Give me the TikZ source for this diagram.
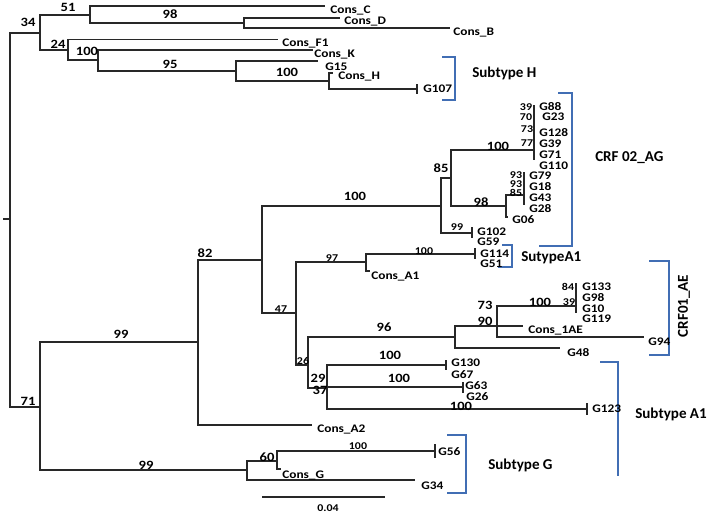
\documentclass[tikz,border=0pt]{standalone}
\usepackage{fontspec}
\setmainfont{Carlito}
\newfontfamily\treefont{Carlito}[FakeStretch=1.15]
\definecolor{brk}{RGB}{65,110,180}
\definecolor{ln}{RGB}{40,40,40}
\begin{document}
\begin{tikzpicture}[x=0.75pt,y=-0.75pt,
  br/.style={draw=ln,line width=0.85pt},
  tk/.style={draw=ln,line width=0.85pt},
  bkt/.style={draw=brk,line width=1.5pt},
  taxon/.style={anchor=west,inner sep=0pt,font=\treefont\bfseries\fontsize{8.7}{9}\selectfont},
  bs/.style={inner sep=0pt,font=\treefont\bfseries\fontsize{9.5}{10}\selectfont},
  bss/.style={inner sep=0pt,font=\treefont\bfseries\fontsize{7.8}{8}\selectfont},
  clade/.style={anchor=west,inner sep=0pt,font=\bfseries\fontsize{11.3}{13}\selectfont}]
\useasboundingbox (0,0) rectangle (709,515);
% ---------- internal nodes ----------
\coordinate (rs) at (3,219);
\coordinate (root) at (10,219);
\coordinate (nA) at (40,33);
\coordinate (nB) at (90,15);
\coordinate (nC) at (68,50);
\coordinate (nD) at (244,23);
\coordinate (nE) at (98,60);
\coordinate (nF) at (236,71);
\coordinate (nH) at (329,81);
\coordinate (nR2) at (40,407);
\coordinate (nS) at (198,342);
\coordinate (nT) at (262,260);
\coordinate (nU) at (441,206);
\coordinate (nW) at (451,178);
\coordinate (nY) at (534,150);
\coordinate (nZ) at (506,206);
\coordinate (nZ2) at (514,195);
\coordinate (nX) at (472,233);
\coordinate (nV) at (296,313);
\coordinate (nAA) at (366,262);
\coordinate (nAB) at (308,365);
\coordinate (nAC) at (455,337);
\coordinate (nAE) at (497,326);
\coordinate (nAF) at (576,306);
\coordinate (nAD) at (327,388);
\coordinate (nSG) at (247,470);
\coordinate (nSH) at (277,461);
% ---------- tips ----------
\coordinate (tC) at (325,6);
\coordinate (tD) at (340,18);
\coordinate (tB) at (450,28);
\coordinate (tF1) at (278,39.5);
\coordinate (tK) at (313,50);
\coordinate (t15) at (318,61);
\coordinate (tH) at (333,73);
\coordinate (t107) at (417,89);
\coordinate (tG06) at (508,217);
\coordinate (t114) at (475,254);
\coordinate (tA1) at (370,271);
\coordinate (t1AE) at (523,326);
\coordinate (t94) at (644,337);
\coordinate (t48) at (560,348);
\coordinate (t130) at (446,365);
\coordinate (t63) at (463,387);
\coordinate (t123) at (587,409);
\coordinate (tA2) at (312,425);
\coordinate (t56) at (435,451);
\coordinate (tG) at (281,469);
\coordinate (t34) at (415,480);
% ---------- branches ----------
\draw[br] (rs) -- (root);
\draw[br] (root) |- (nA);
\draw[br] (root) |- (nR2);
\draw[br] (nA) |- (nB);
\draw[br] (nA) |- (nC);
\draw[br] (nB) |- (tC);
\draw[br] (nB) |- (nD);
\draw[br] (nD) |- (tD);
\draw[br] (nD) |- (tB);
\draw[br] (nC) |- (tF1);
\draw[br] (nC) |- (nE);
\draw[br] (nE) |- (tK);
\draw[br] (nE) |- (nF);
\draw[br] (nF) |- (t15);
\draw[br] (nF) |- (nH);
\draw[br] (nH) |- (tH);
\draw[br] (nH) |- (t107);
\draw[br] (nR2) |- (nS);
\draw[br] (nR2) |- (nSG);
\draw[br] (nS) |- (nT);
\draw[br] (nS) |- (tA2);
\draw[br] (nT) |- (nU);
\draw[br] (nT) |- (nV);
\draw[br] (nU) |- (nW);
\draw[br] (nU) |- (nX);
\draw[br] (nW) |- (nY);
\draw[br] (nW) |- (nZ);
\draw[br] (nY) ++(0,-45) -- ++(0,55);
\draw[br] (nZ) |- (nZ2);
\draw[br] (nZ) |- (tG06);
\draw[br] (nZ2) -- ++(10,0) coordinate (nZ3);
\draw[br] (nZ3) ++(0,-23) -- ++(0,33);
\draw[tk] (nX) ++(0,-6) -- ++(0,11);
\draw[br] (nV) |- (nAA);
\draw[br] (nV) |- (nAB);
\draw[br] (nAA) |- (t114);
\draw[br] (nAA) |- (tA1);
\draw[tk] (t114) ++(0,-6) -- ++(0,11);
\draw[br] (nAB) |- (nAC);
\draw[br] (nAB) |- (nAD);
\draw[br] (nAC) |- (nAE);
\draw[br] (nAC) |- (t48);
\draw[br] (nAE) |- (nAF);
\draw[br] (nAE) -- (t1AE);
\draw[br] (nAE) |- (t94);
\draw[br] (nAF) ++(0,-23) -- ++(0,30);
\draw[br] (nAD) |- (t130);
\draw[br] (nAD) |- (t63);
\draw[br] (nAD) |- (t123);
\draw[tk] (t130) ++(0,-5) -- ++(0,10);
\draw[tk] (t63) ++(0,-5) -- ++(0,11);
\draw[tk] (t123) ++(0,-6) -- ++(0,12);
\draw[tk] (t107) ++(0,-5) -- ++(0,10);
\draw[br] (nSG) |- (nSH);
\draw[br] (nSG) |- (t34);
\draw[br] (nSH) |- (t56);
\draw[br] (nSH) |- (tG);
\draw[tk] (t56) ++(0,-7) -- ++(0,14);
% ---------- scale bar ----------
\coordinate (sb1) at (262,497);
\coordinate (sb2) at (385,497);
\draw[br] (sb1) -- (sb2);
\node[bss] (lsb) at (328,508) {0.04};
% ---------- brackets ----------
\draw[bkt] (442,57) -- (455,57) -- (455,100) -- (442,100);
\draw[bkt] (558,93) -- (572,93) -- (572,246) -- (539,246);
\draw[bkt] (502,245) -- (512,245) -- (512,267) -- (498,267);
\draw[bkt] (649,261) -- (669,261) -- (669,355) -- (649,355);
\draw[bkt] (600,362) -- (618,362) -- (618,476);
\draw[bkt] (447,435) -- (466,435) -- (466,493) -- (447,493);
% ---------- clade labels ----------
\node[clade] (cH) at (472,73) {Subtype H};
\node[clade] (c02) at (595,158) {CRF 02\_AG};
\node[clade] (cA1a) at (521,258) {SutypeA1};
\node[clade,anchor=center,rotate=90] (c01) at (684,306) {CRF01\_AE};
\node[clade] (cA1b) at (635,414) {Subtype A1};
\node[clade] (cG) at (488,465) {Subtype G};
% ---------- bootstrap labels ----------
\node[bs] (b34) at (28,22) {34};
\node[bs] (b51) at (68,7) {51};
\node[bs] (b98a) at (170,14) {98};
\node[bs] (b24) at (58,44) {24};
\node[bs] (b100a) at (87,51) {100};
\node[bs] (b95) at (170,64) {95};
\node[bs] (b100b) at (287,72) {100};
\node[bs] (b85) at (441,168) {85};
\node[bs] (b100c) at (498,146) {100};
\node[bs] (b98b) at (481,202) {98};
\node[bs] (b100d) at (355,196) {100};
\node[bs] (b82) at (205,253) {82};
\node[bss] (b97) at (332,258) {97};
\node[bss] (b100e) at (424,251) {100};
\node[bss] (b47) at (281,309) {47};
\node[bss] (b26) at (303,361) {26};
\node[bs] (b96) at (384,327) {96};
\node[bs] (b73) at (485,305) {73};
\node[bs] (b90) at (485,321) {90};
\node[bs] (b100f) at (540,302) {100};
\node[bss] (b39b) at (569,302) {39};
\node[bss] (b84) at (568,287) {84};
\node[bs] (b100g) at (390,355) {100};
\node[bs] (b100h) at (399,378) {100};
\node[bs] (b29) at (318,378) {29};
\node[bs] (b37) at (320,390) {37};
\node[bs] (b100i) at (461,406) {100};
\node[bs] (b99a) at (121,334) {99};
\node[bs] (b71) at (28,401) {71};
\node[bs] (b99b) at (146,465) {99};
\node[bs] (b60) at (267,457) {60};
\node[bss] (b100j) at (358,446) {100};
\node[bss] (b39) at (526,107) {39};
\node[bss] (b70) at (526,117) {70};
\node[bss] (b73b) at (527,129) {73};
\node[bss] (b77) at (527,143) {77};
\node[bss] (b93a) at (516,175) {93};
\node[bss] (b93b) at (516,184) {93};
\node[bss] (b85b) at (516,193) {85};
\node[bss] (b99c) at (457,227) {99};
% ---------- taxon labels ----------
\node[taxon] (lC) at (330,11) {Cons\_C};
\node[taxon] (lD) at (344,22) {Cons\_D};
\node[taxon] (lB) at (453,33) {Cons\_B};
\node[taxon] (lF1) at (282,44) {Cons\_F1};
\node[taxon] (lK) at (314,55) {Cons\_K};
\node[taxon] (l15) at (325,67) {G15};
\node[taxon] (lH) at (338,77) {Cons\_H};
\node[taxon] (l107) at (423,89) {G107};
\node[taxon] (l88) at (539,107) {G88};
\node[taxon] (l23) at (542,117) {G23};
\node[taxon] (l128) at (539,133) {G128};
\node[taxon] (l39) at (539,144) {G39};
\node[taxon] (l71) at (539,155) {G71};
\node[taxon] (l110) at (539,166) {G110};
\node[taxon] (l79) at (529,176) {G79};
\node[taxon] (l18) at (529,187) {G18};
\node[taxon] (l43) at (529,198) {G43};
\node[taxon] (l28) at (529,209) {G28};
\node[taxon] (l06) at (512,220) {G06};
\node[taxon] (l102) at (477,232) {G102};
\node[taxon] (l59) at (477,242) {G59};
\node[taxon] (l114) at (480,254) {G114};
\node[taxon] (l51) at (480,264) {G51};
\node[taxon] (lA1) at (371,276) {Cons\_A1};
\node[taxon] (l133) at (582,287) {G133};
\node[taxon] (l98) at (582,298) {G98};
\node[taxon] (l10) at (582,308.5) {G10};
\node[taxon] (l119) at (582,319) {G119};
\node[taxon] (l1AE) at (528,330) {Cons\_1AE};
\node[taxon] (l94) at (648,342) {G94};
\node[taxon] (l48) at (567,353) {G48};
\node[taxon] (l130) at (451,363) {G130};
\node[taxon] (l67) at (451,375) {G67};
\node[taxon] (l63) at (465,386) {G63};
\node[taxon] (l26) at (466,397) {G26};
\node[taxon] (l123) at (592,409) {G123};
\node[taxon] (lA2) at (317,429) {Cons\_A2};
\node[taxon] (l56) at (438,452) {G56};
\node[taxon] (lG) at (282,475) {Cons\_G};
\node[taxon] (l34) at (421,486) {G34};
\end{tikzpicture}
\end{document}
